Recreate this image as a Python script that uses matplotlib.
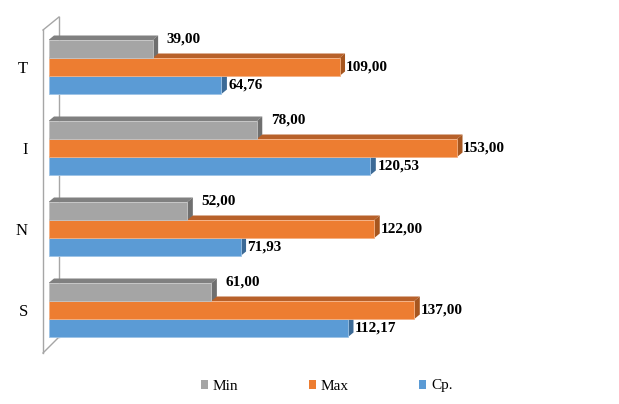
import matplotlib
matplotlib.use('Agg')
import matplotlib.pyplot as plt
from matplotlib.patches import Polygon, Patch

categories = ['T', 'I', 'N', 'S']
series_names = ['Min', 'Max', 'Cp.']
min_vals = [39.00, 78.00, 52.00, 61.00]
max_vals = [109.00, 153.00, 122.00, 137.00]
cp_vals = [64.76, 120.53, 71.93, 112.17]

plt.rcParams['font.family'] = ['Liberation Serif', 'DejaVu Serif']

W, H = 619, 404
fig = plt.figure(figsize=(W / 100, H / 100), dpi=100)
fig.patch.set_facecolor('white')

PX = 2.67        # pixels per value unit
X0 = 48.5        # pixel of value 0
TOP = 26.5       # pixel top of plot area
CAT = 81.0       # pixels per category
XMAX = 200
ax = fig.add_axes([X0 / W, (H - (TOP + 4 * CAT)) / H, XMAX * PX / W, 4 * CAT / H])
ax.set_xlim(0, XMAX)
ax.set_ylim(3.5, -0.5)
for s in ax.spines.values():
    s.set_visible(False)
ax.set_xticks([])
ax.set_yticks(range(len(categories)), categories)
ax.tick_params(axis='y', length=0, pad=14.8, labelsize=12)

dx = 5.5 / PX
dy = 4.5 / CAT
h = 18.0 / CAT

# wall (in pixel-derived data units)
def px2x(p):
    return (p - X0) / PX

def px2y(p):
    return -0.5 + (p - TOP) / CAT

wc = '#a6a6a6'
xf, xb = px2x(43), px2x(59)
yft, yfb = px2y(30), px2y(353)
ybt, ybb = px2y(17), px2y(337)
ax.plot([xf, xf], [yft, yfb], color=wc, lw=1, clip_on=False, zorder=1)
ax.plot([xf, xb], [yft, ybt], color=wc, lw=1, clip_on=False, zorder=1)
ax.plot([xf, xb], [yfb, ybb], color=wc, lw=1, clip_on=False, zorder=1)
ax.plot([xb, xb], [ybt, ybb], color=wc, lw=1, clip_on=False, zorder=1)

colors = {
    'Min': ('#a5a5a5', '#808080', '#6f6f6f'),
    'Max': ('#ed7d31', '#b8612a', '#a6561f'),
    'Cp.': ('#5b9bd5', '#4a80b2', '#3c6a96'),
}
edges = {'Min': '#c4c4c4', 'Max': '#f4b183', 'Cp.': '#9dc3e6'}

def fmt(v):
    return f'{v:.2f}'.replace('.', ',')

def bar3d(yc, v, name):
    front, topc, sidec = colors[name]
    top = yc - h / 2
    bot = yc + h / 2
    ax.add_patch(Polygon([(0, top), (v, top), (v + dx, top - dy), (dx, top - dy)],
                         closed=True, facecolor=topc, edgecolor='none', zorder=3))
    ax.add_patch(Polygon([(v, top), (v + dx, top - dy), (v + dx, bot - dy), (v, bot)],
                         closed=True, facecolor=sidec, edgecolor='none', zorder=3))
    ax.barh(yc, v, height=h, color=front, edgecolor=edges[name], linewidth=0.6, zorder=3)

offsets = {'Min': -h, 'Max': 0.0, 'Cp.': h}
data = {'Min': min_vals, 'Max': max_vals, 'Cp.': cp_vals}

for i in range(len(categories)):
    for name in ['Cp.', 'Max', 'Min']:
        v = data[name][i]
        yc = i + offsets[name]
        bar3d(yc, v, name)
        if name == 'Min':
            ax.annotate(fmt(v), xy=(v, yc - h / 2), xytext=(14, 1), textcoords='offset pixels',
                        ha='left', va='center', fontsize=11, fontweight='bold', zorder=5)
        elif name == 'Max':
            ax.annotate(fmt(v), xy=(v, yc), xytext=(6, 0), textcoords='offset pixels',
                        ha='left', va='center', fontsize=11, fontweight='bold', zorder=5)
        else:
            ax.annotate(fmt(v), xy=(v, yc), xytext=(7, 0), textcoords='offset pixels',
                        ha='left', va='center', fontsize=11, fontweight='bold', zorder=5)

handles = [Patch(facecolor=colors[n][0], edgecolor='none', label=n) for n in series_names]
fig.legend(handles=handles, loc='center', bbox_to_anchor=(326.5 / W, (H - 386) / H),
           ncol=3, frameon=False, fontsize=11, handlelength=0.46, handleheight=0.52,
           handletextpad=0.33, columnspacing=4.6, borderpad=0)

fig.savefig('out.png', dpi=100)
